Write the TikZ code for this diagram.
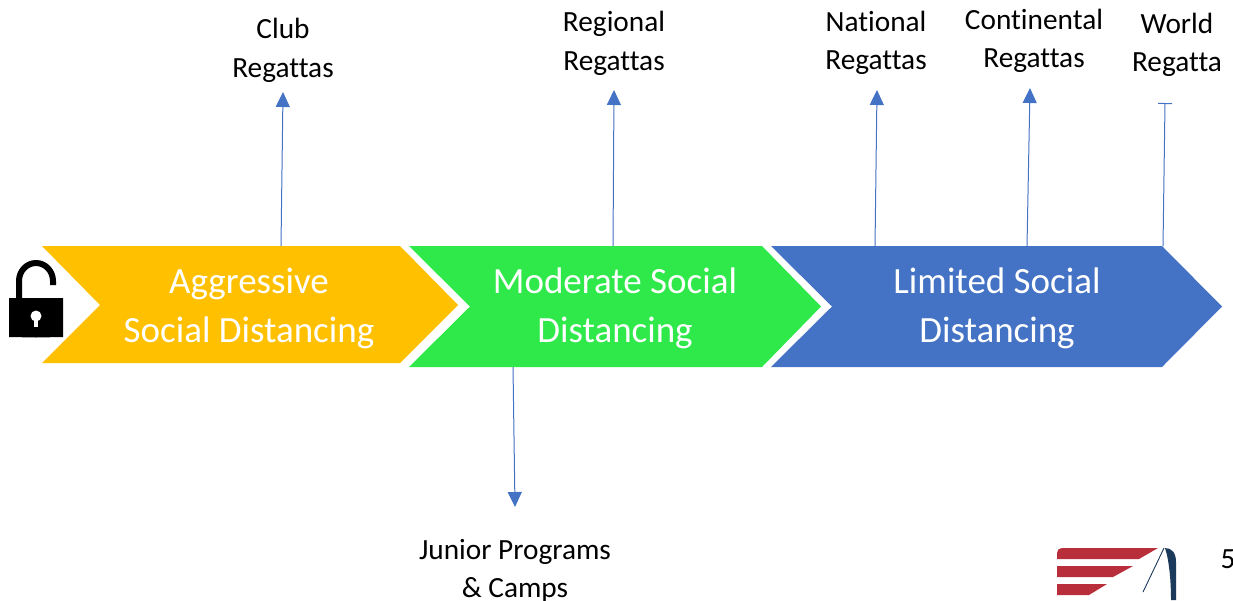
\documentclass[tikz,border=0pt]{standalone}
\usepackage{fontspec}
\setmainfont{Carlito}[Ligatures={NoCommon}]
\usetikzlibrary{arrows.meta}
\definecolor{amberc}{HTML}{FFC000}
\definecolor{greenc}{HTML}{2FE84A}
\definecolor{bluec}{HTML}{4472C4}
\definecolor{logored}{HTML}{B82E3A}
\definecolor{logonavy}{HTML}{1B3A5C}
\tikzset{
  x=1pt,y=-1pt,
  chevtext/.style={text=white,align=center,font=\fontsize{37}{48.5}\selectfont,inner sep=0pt},
  eventlabel/.style={text=black,align=center,font=\fontsize{29.3}{38.5}\selectfont,inner sep=0pt},
  link/.style={draw=bluec,line width=1pt},
  arrowlink/.style={link,-{Triangle[length=15pt,width=14pt]}},
  barlink/.style={link,-{Bar[width=14pt,line width=1pt]}},
}
\begin{document}
\begin{tikzpicture}
\useasboundingbox (0,0) rectangle (1233,600);
\begin{scope}
\clip (0,0) rectangle (1233,600);
% chevrons
\fill[amberc] (42,246) -- (400,246) -- (458,305) -- (400,363) -- (42,363) -- (100,305) -- cycle;
\fill[greenc] (409,246) -- (762,246) -- (821,306.5) -- (762,367) -- (409,367) -- (470,306.5) -- cycle;
\fill[bluec] (771,246) -- (1162,246) -- (1222,306.5) -- (1162,367) -- (771,367) -- (832,306.5) -- cycle;
\node[chevtext] (aggr) at (249,308.5) {Aggressive\\Social Distancing};
\node[chevtext] (mod) at (615,308.5) {Moderate Social\\Distancing};
\node[chevtext] (lim) at (997,308.5) {Limited Social\\Distancing};
% labels
\node[eventlabel] (club) at (283,50.5) {Club\\Regattas};
\node[eventlabel] (regional) at (614,43.5) {Regional\\Regattas};
\node[eventlabel] (national) at (876,43) {National\\Regattas};
\node[eventlabel] (continental) at (1034,41) {Continental\\Regattas};
\node[eventlabel] (world) at (1177,45) {World\\Regatta};
\node[eventlabel] (junior) at (515,571) {Junior Programs\\\& Camps};
\node[eventlabel,anchor=west] (page) at (1220.5,559) {5};
% connector ends
\coordinate (c1) at (281,246); \coordinate (c1e) at (283,92);
\coordinate (c2) at (613,246); \coordinate (c2e) at (614,90);
\coordinate (c3) at (875,246); \coordinate (c3e) at (877,90);
\coordinate (c4) at (1027,246); \coordinate (c4e) at (1030,88);
\coordinate (c5) at (1163,246); \coordinate (c5e) at (1165,103);
\coordinate (c6) at (513,367); \coordinate (c6e) at (515,507);
\draw[arrowlink] (c1) -- (c1e);
\draw[arrowlink] (c2) -- (c2e);
\draw[arrowlink] (c3) -- (c3e);
\draw[arrowlink] (c4) -- (c4e);
\draw[barlink] (c5) -- (c5e);
\draw[arrowlink] (c6) -- (c6e);
% open padlock
\draw[black,line width=6pt] (19,299) -- (19,281) arc[start angle=180,end angle=0,x radius=17,y radius=-18] -- (53,285);
\fill[black] (9,298) -- (63,298) -- (63,337) -- (36,337.5) -- (9,337) -- cycle;
\fill[white] (36,316) circle (5.5);
\fill[white] (33.7,318) rectangle (38.3,327);
% logo
\fill[logored] (1062,548) -- (1158,548) -- (1139,559) -- (1057,559) -- (1057,553) .. controls (1057,550) and (1059,548) .. (1062,548) -- cycle;
\fill[logored] (1057,566) -- (1133,566) -- (1113,577) -- (1057,577) -- cycle;
\fill[logored] (1057,584) -- (1107,584) -- (1089,595) -- (1057,595) -- cycle;
\fill[logonavy] (1165,548) .. controls (1172,548) and (1176,553) .. (1176,562) -- (1176,600) -- (1171,600) .. controls (1171,580) and (1169,560) .. (1165,548) -- cycle;
\draw[logonavy,line width=0.9pt] (1164,548) -- (1143,592);
\end{scope}
\end{tikzpicture}
\end{document}
